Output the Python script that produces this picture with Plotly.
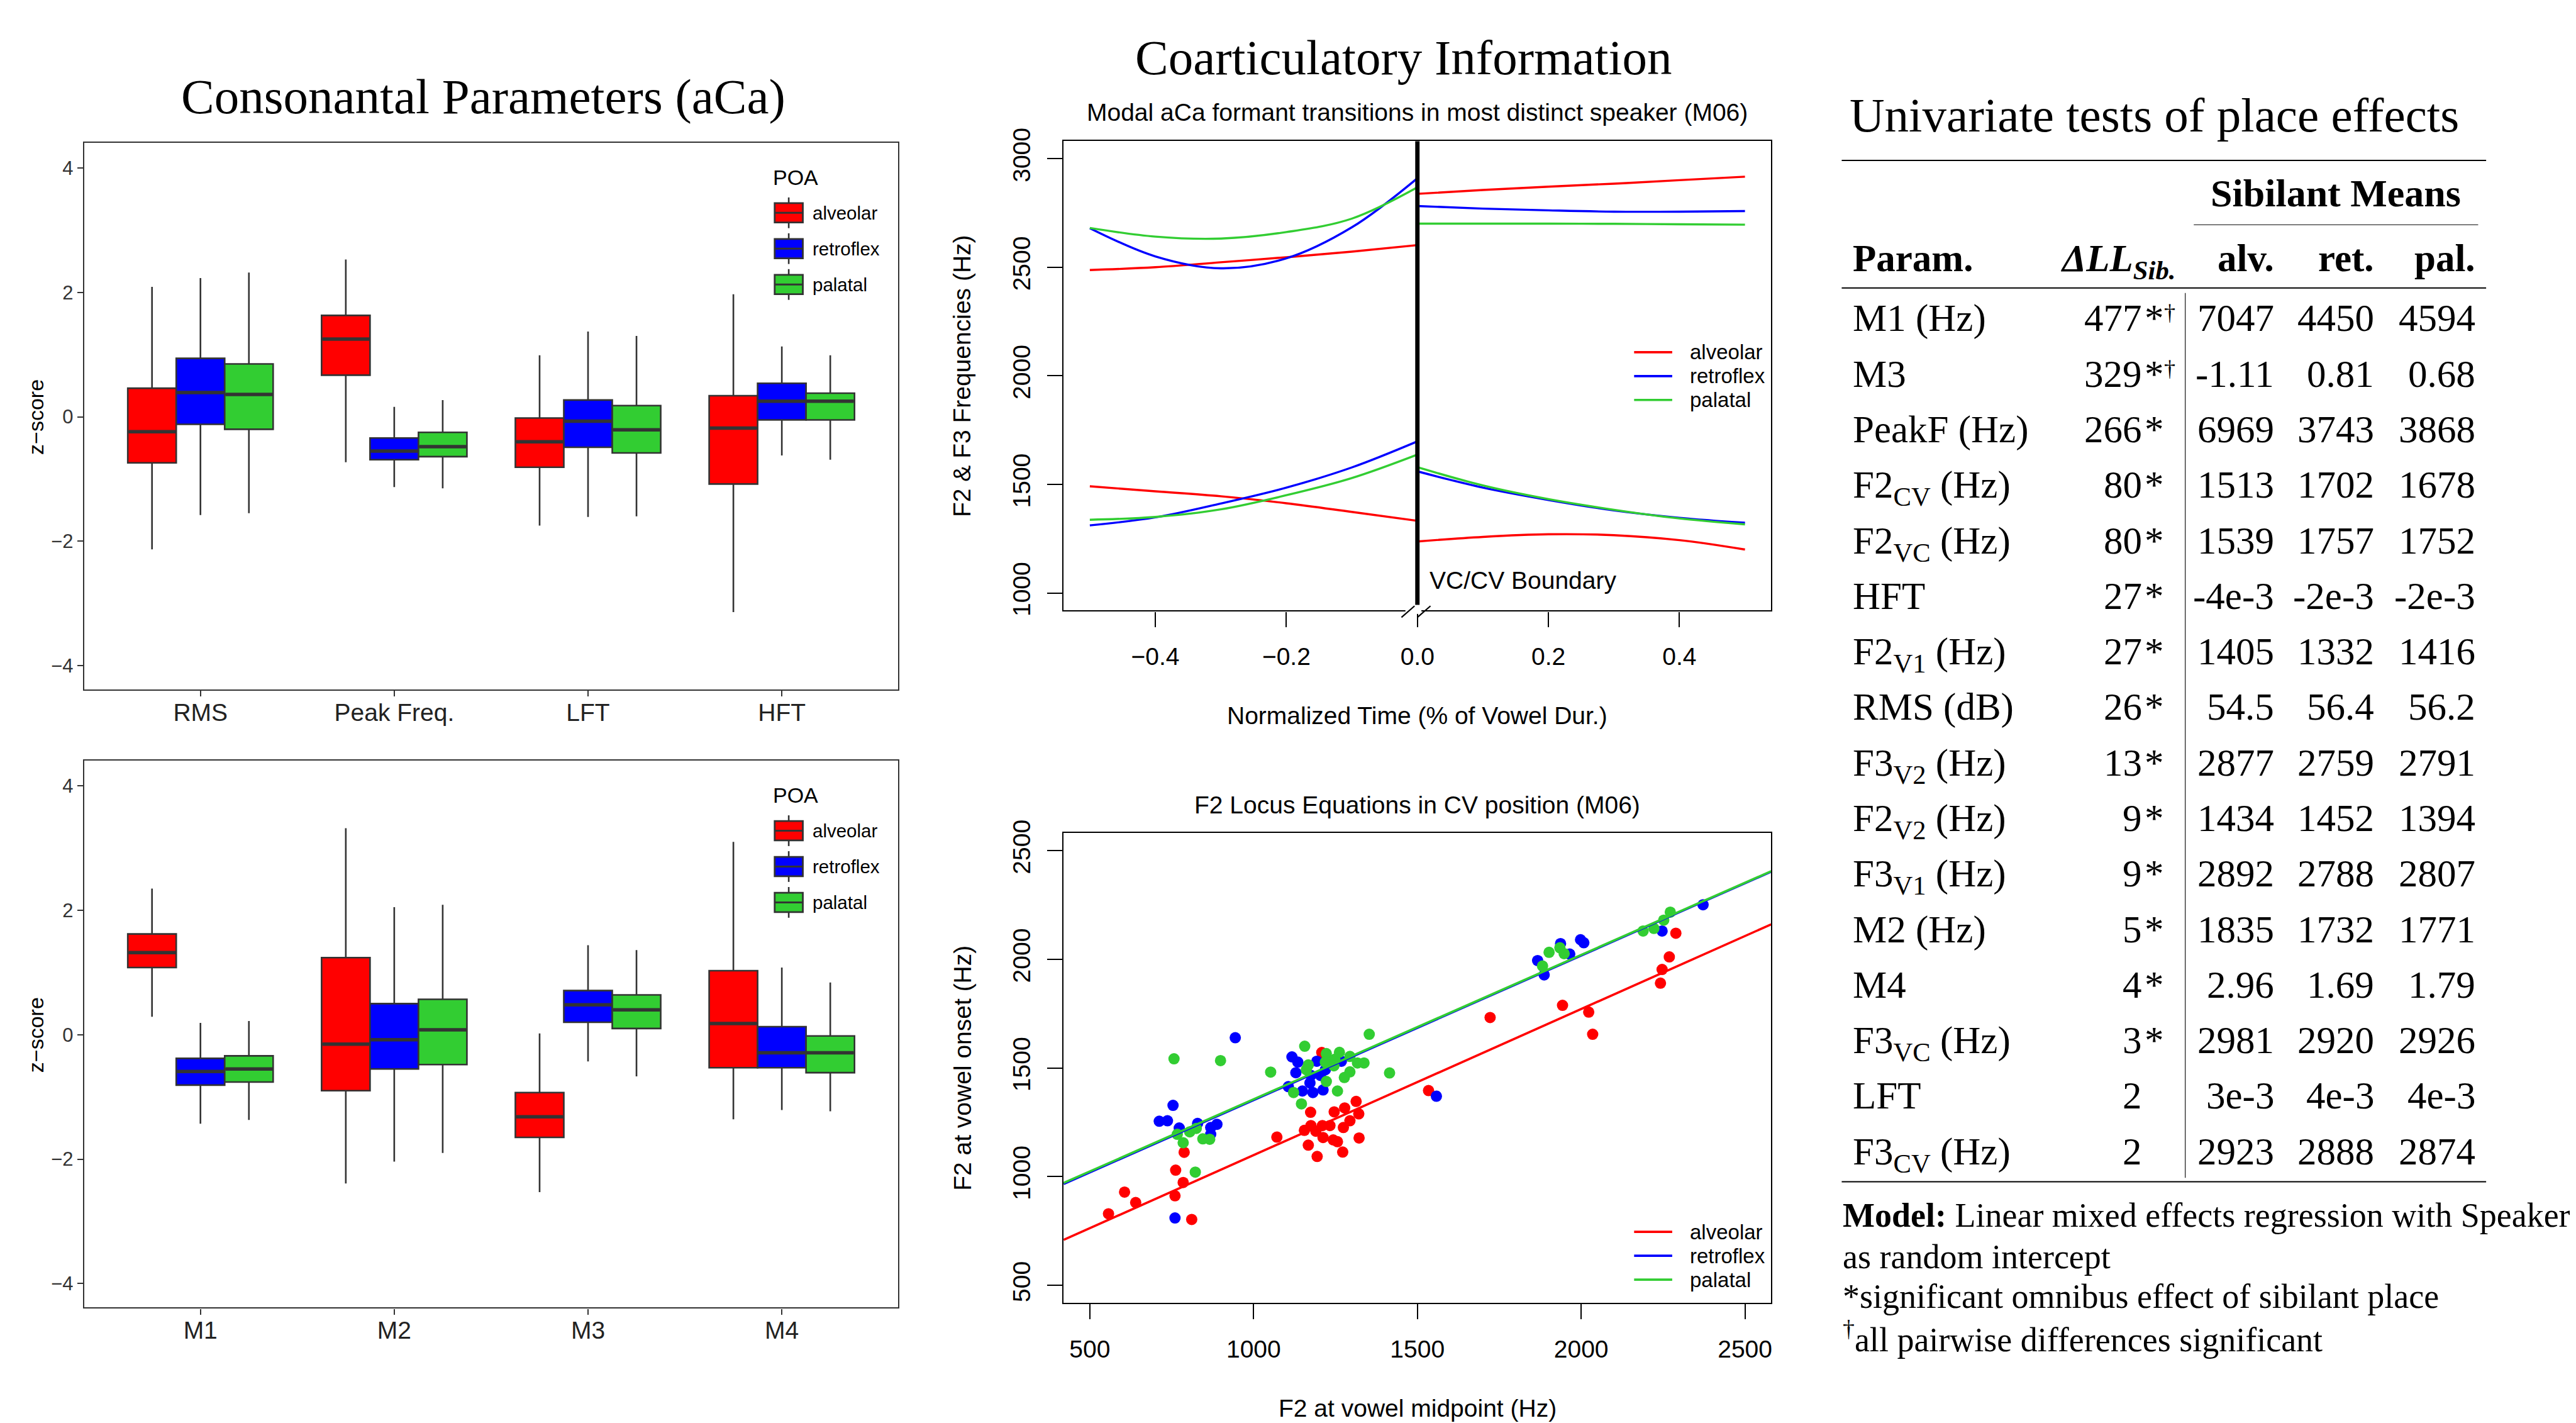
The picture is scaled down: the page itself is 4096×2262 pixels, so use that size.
import plotly.graph_objects as go

# ---------------- reference geometry helpers ----------------
RW, RH = 4529, 2501          # reference canvas (all positions below are in reference px)
OUT_W, OUT_H = 4096, 2262
PAGE_PAD = 8                 # default body margin of the html page
def X(v): return v / RW - PAGE_PAD / OUT_W
def Y(v): return 1 - v / RH + PAGE_PAD / OUT_H

SANS = "Liberation Sans, Arial, Helvetica, sans-serif"
SERIF = "Liberation Serif, Times New Roman, serif"

place_names = ["alveolar", "retroflex", "palatal"]
place_colors = ["#FF0000", "#0000FF", "#32CD32"]

# ---------------- box plot data (z-scores) ----------------
top_params = ["RMS", "Peak Freq.", "LFT", "HFT"]
bot_params = ["M1", "M2", "M3", "M4"]

top_alv_lo = [-2.13, -0.73, -1.75, -3.14]
top_alv_q1 = [-0.74, 0.67, -0.81, -1.08]
top_alv_med = [-0.24, 1.25, -0.40, -0.18]
top_alv_q3 = [0.46, 1.63, -0.02, 0.34]
top_alv_hi = [2.09, 2.53, 0.99, 1.97]

top_ret_lo = [-1.58, -1.13, -1.61, -0.62]
top_ret_q1 = [-0.12, -0.69, -0.49, -0.05]
top_ret_med = [0.39, -0.55, -0.07, 0.25]
top_ret_q3 = [0.94, -0.34, 0.27, 0.54]
top_ret_hi = [2.23, 0.16, 1.37, 1.13]

top_pal_lo = [-1.55, -1.15, -1.60, -0.69]
top_pal_q1 = [-0.20, -0.64, -0.58, -0.05]
top_pal_med = [0.36, -0.48, -0.21, 0.25]
top_pal_q3 = [0.85, -0.25, 0.18, 0.38]
top_pal_hi = [2.32, 0.27, 1.30, 0.99]

bot_alv_lo = [0.29, -2.39, -2.53, -1.36]
bot_alv_q1 = [1.08, -0.90, -1.65, -0.53]
bot_alv_med = [1.32, -0.15, -1.32, 0.18]
bot_alv_q3 = [1.62, 1.24, -0.93, 1.03]
bot_alv_hi = [2.35, 3.32, 0.02, 3.10]

bot_ret_lo = [-1.43, -2.04, -0.43, -1.21]
bot_ret_q1 = [-0.81, -0.55, 0.20, -0.53]
bot_ret_med = [-0.59, -0.08, 0.48, -0.29]
bot_ret_q3 = [-0.38, 0.50, 0.71, 0.13]
bot_ret_hi = [0.19, 2.05, 1.44, 1.08]

bot_pal_lo = [-1.37, -1.90, -0.67, -1.23]
bot_pal_q1 = [-0.76, -0.48, 0.10, -0.61]
bot_pal_med = [-0.55, 0.08, 0.40, -0.29]
bot_pal_q3 = [-0.34, 0.57, 0.64, -0.02]
bot_pal_hi = [0.22, 2.09, 1.36, 0.84]

# ---------------- formant transitions (Hz) ----------------
t_vc = [-0.5, -0.4, -0.3, -0.2, -0.1, 0.0]
t_cv = [0.0, 0.1, 0.2, 0.3, 0.4, 0.5]
f3_vc_alv = [2487, 2500, 2523, 2546, 2572, 2602]
f3_vc_ret = [2680, 2550, 2495, 2541, 2684, 2910]
f3_vc_pal = [2681, 2641, 2632, 2662, 2724, 2868]
f2_vc_alv = [1491, 1468, 1445, 1413, 1373, 1332]
f2_vc_ret = [1311, 1348, 1412, 1485, 1578, 1698]
f2_vc_pal = [1337, 1350, 1385, 1450, 1529, 1637]
f3_cv_alv = [2838, 2856, 2871, 2885, 2901, 2917]
f3_cv_ret = [2782, 2770, 2762, 2756, 2756, 2759]
f3_cv_pal = [2701, 2701, 2701, 2700, 2698, 2696]
f2_cv_alv = [1237, 1258, 1270, 1266, 1243, 1200]
f2_cv_ret = [1560, 1485, 1428, 1380, 1346, 1323]
f2_cv_pal = [1579, 1495, 1432, 1383, 1343, 1316]
boundary_low = 945

# ---------------- locus equation scatter (Hz) ----------------
alv_mid = [557, 606, 640, 760, 762, 785, 788, 811, 1071, 1208, 1174, 1246, 1278, 1313, 1321,
           1294, 1274, 1233, 1210, 1175, 1155, 1190, 1212, 1243, 1256, 1322, 1167, 1272, 1194,
           1534, 1722, 1943, 2023, 2035, 2242, 2247, 2269, 2289]
alv_on = [829, 929, 881, 912, 1030, 973, 1112, 803, 1182, 1571, 1296, 1298, 1316, 1346, 1289,
          1257, 1226, 1235, 1235, 1235, 1213, 1209, 1180, 1169, 1161, 1178, 1145, 1113, 1093,
          1396, 1732, 1788, 1757, 1655, 1890, 1953, 2011, 2120]
ret_mid = [944, 754, 712, 737, 773, 829, 888, 869, 869, 760, 1117, 1135, 1129, 1106, 1149, 1172,
           1181, 1212, 1193, 1204, 1219, 1268, 1175, 1558, 1867, 1887, 1937, 1965, 1998, 2008,
           2247, 2372]
ret_on = [1639, 1328, 1255, 1257, 1224, 1245, 1241, 1226, 1195, 810, 1551, 1527, 1478, 1414, 1394,
          1431, 1387, 1399, 1531, 1466, 1492, 1531, 1466, 1370, 1994, 1928, 2072, 2024, 2090, 2076,
          2130, 2251]
pal_mid = [757, 899, 767, 785, 805, 825, 845, 866, 822, 1052, 1156, 1353, 1415, 1167, 1161, 1222,
           1219, 1248, 1262, 1245, 1294, 1317, 1337, 1294, 1277, 1222, 1256, 1122, 1146, 1882, 1902,
           1935, 1948, 2189, 2222, 2252, 2272]
pal_on = [1542, 1534, 1195, 1156, 1206, 1222, 1174, 1172, 1021, 1481, 1600, 1655, 1477, 1514, 1492,
          1566, 1527, 1540, 1572, 1510, 1553, 1523, 1523, 1482, 1456, 1438, 1394, 1387, 1335, 1969,
          2032, 2053, 2026, 2130, 2142, 2180, 2217]
locus_intercept = [427, 687, 692]
locus_slope = [0.672, 0.665, 0.664]

# ---------------- table ----------------
tbl_param = ["M1 (Hz)", "M3", "PeakF (Hz)", "F2<sub>CV</sub> (Hz)", "F2<sub>VC</sub> (Hz)", "HFT",
             "F2<sub>V1</sub> (Hz)", "RMS (dB)", "F3<sub>V2</sub> (Hz)", "F2<sub>V2</sub> (Hz)",
             "F3<sub>V1</sub> (Hz)", "M2 (Hz)", "M4", "F3<sub>VC</sub> (Hz)", "LFT", "F3<sub>CV</sub> (Hz)"]
tbl_dll = ["477", "329", "266", "80", "80", "27", "27", "26", "13", "9", "9", "5", "4", "3", "2", "2"]
tbl_star = ["*", "*", "*", "*", "*", "*", "*", "*", "*", "*", "*", "*", "*", "*", "", ""]
tbl_dagger = ["†", "†", "", "", "", "", "", "", "", "", "", "", "", "", "", ""]
tbl_alv = ["7047", "-1.11", "6969", "1513", "1539", "-4e-3", "1405", "54.5", "2877", "1434", "2892",
           "1835", "2.96", "2981", "3e-3", "2923"]
tbl_ret = ["4450", "0.81", "3743", "1702", "1757", "-2e-3", "1332", "56.4", "2759", "1452", "2788",
           "1732", "1.69", "2920", "4e-3", "2888"]
tbl_pal = ["4594", "0.68", "3868", "1678", "1752", "-2e-3", "1416", "56.2", "2791", "1394", "2807",
           "1771", "1.79", "2926", "4e-3", "2874"]

# =====================================================================
fig = go.Figure()
annotations, shapes = [], []

def txt(s, x, y, size, family=SANS, xa="center", ya="middle", color="black", angle=0):
    annotations.append(dict(text=s, x=X(x), y=Y(y), xref="paper", yref="paper",
                            xanchor=xa, yanchor=ya, showarrow=False, textangle=angle,
                            font=dict(size=size, family=family, color=color)))

def seg(x0, y0, x1, y1, width, color="black"):
    shapes.append(dict(type="line", xref="paper", yref="paper", x0=X(x0), y0=Y(y0),
                       x1=X(x1), y1=Y(y1), line=dict(color=color, width=width)))

# ---------------- box plots ----------------
GREY = "#333333"
BW = 0.25
offsets = [-0.25, 0.0, 0.25]
panels = [
    ("x", "y", top_params, [(top_alv_lo, top_alv_q1, top_alv_med, top_alv_q3, top_alv_hi),
                            (top_ret_lo, top_ret_q1, top_ret_med, top_ret_q3, top_ret_hi),
                            (top_pal_lo, top_pal_q1, top_pal_med, top_pal_q3, top_pal_hi)]),
    ("x2", "y2", bot_params, [(bot_alv_lo, bot_alv_q1, bot_alv_med, bot_alv_q3, bot_alv_hi),
                              (bot_ret_lo, bot_ret_q1, bot_ret_med, bot_ret_q3, bot_ret_hi),
                              (bot_pal_lo, bot_pal_q1, bot_pal_med, bot_pal_q3, bot_pal_hi)]),
]
for xa, ya, params, stats in panels:
    for k in range(3):
        lo, q1, med, q3, hi = stats[k]
        xs = [i + 1 + offsets[k] for i in range(len(params))]
        fig.add_trace(go.Box(x=xs, q1=q1, median=med, q3=q3, lowerfence=lo, upperfence=hi,
                             width=BW, fillcolor=place_colors[k], line=dict(color=GREY, width=2.6),
                             whiskerwidth=0, boxpoints=False, name=place_names[k],
                             showlegend=False, xaxis=xa, yaxis=ya))
        mx, my = [], []
        for xc, m in zip(xs, med):
            mx += [xc - BW / 2 + 0.004, xc + BW / 2 - 0.004, None]
            my += [m, m, None]
        fig.add_trace(go.Scatter(x=mx, y=my, mode="lines", line=dict(color=GREY, width=5.5),
                                 showlegend=False, hoverinfo="skip", xaxis=xa, yaxis=ya))

# manual ggplot-style legends
for top in (251, 1337):
    txt("POA", 1357, top + 61, 34, xa="left")
    for k in range(3):
        c = top + 123 + 63 * k
        shapes.append(dict(type="line", xref="paper", yref="paper", x0=X(1386.7), x1=X(1386.7),
                           y0=Y(c - 27), y1=Y(c + 27), line=dict(color=GREY, width=2.6)))
        shapes.append(dict(type="rect", xref="paper", yref="paper", x0=X(1362), x1=X(1411.5),
                           y0=Y(c + 17), y1=Y(c - 17), fillcolor=place_colors[k],
                           line=dict(color=GREY, width=2.8)))
        seg(1362, c, 1411.5, c, 3, GREY)
        txt(place_names[k], 1426.5, c, 29.5, xa="left")

txt("z−score", 63, 733, 34, angle=-90)
txt("z−score", 63, 1819, 34, angle=-90)
txt("Consonantal Parameters (aCa)", 850, 170, 79, family=SERIF)

# ---------------- formant transitions ----------------
vc = [(f3_vc_alv, f2_vc_alv), (f3_vc_ret, f2_vc_ret), (f3_vc_pal, f2_vc_pal)]
cv = [(f3_cv_alv, f2_cv_alv), (f3_cv_ret, f2_cv_ret), (f3_cv_pal, f2_cv_pal)]
for k in range(3):
    for ser_t, ser in ((t_vc, vc[k][0]), (t_vc, vc[k][1]), (t_cv, cv[k][0]), (t_cv, cv[k][1])):
        fig.add_trace(go.Scatter(x=ser_t, y=ser, mode="lines", name=place_names[k],
                                 line=dict(color=place_colors[k], width=3.4, shape="spline"),
                                 showlegend=False, xaxis="x3", yaxis="y3"))
# VC/CV boundary
shapes.append(dict(type="line", xref="x3", yref="y3", x0=0, x1=0, y0=boundary_low, y1=3081,
                   line=dict(color="black", width=6.9)))
# axis break on the bottom frame
shapes.append(dict(type="rect", xref="paper", yref="paper", x0=X(2471), x1=X(2499),
                   y0=Y(1079), y1=Y(1068), fillcolor="white", line=dict(width=0)))
seg(2464, 1085, 2487, 1065, 2.2)
seg(2492, 1085, 2515, 1065, 2.2)
txt("VC/CV Boundary", 2511, 1020, 39, xa="left")
for k in range(3):
    yy = 619 + 42 * k
    seg(2873, yy, 2940, yy, 3.6, place_colors[k])
    txt(place_names[k], 2969, yy, 33, xa="left")
txt("Coarticulatory Information", 2467, 101, 79, family=SERIF)
txt("Modal aCa formant transitions in most distinct speaker (M06)", 2492, 197, 39)
txt("F2 & F3 Frequencies (Hz)", 1692, 661, 39, angle=-90)
txt("Normalized Time (% of Vowel Dur.)", 2492, 1258, 39)

# ---------------- locus equations ----------------
sc = [(alv_mid, alv_on), (ret_mid, ret_on), (pal_mid, pal_on)]
for k in range(3):
    fig.add_trace(go.Scatter(x=sc[k][0], y=sc[k][1], mode="markers", name=place_names[k],
                             marker=dict(color=place_colors[k], size=18, line=dict(width=0)),
                             showlegend=False, xaxis="x4", yaxis="y4"))
X4_RANGE = [420, 2580]
for k in range(3):
    fig.add_trace(go.Scatter(x=X4_RANGE,
                             y=[locus_intercept[k] + locus_slope[k] * v for v in X4_RANGE],
                             mode="lines", line=dict(color=place_colors[k], width=3.6),
                             name=place_names[k], showlegend=False, xaxis="x4", yaxis="y4"))
for k in range(3):
    yy = 2165 + 42 * k
    seg(2873, yy, 2940, yy, 3.6, place_colors[k])
    txt(place_names[k], 2969, yy, 33, xa="left")
txt("F2 Locus Equations in CV position (M06)", 2492, 1415, 39)
txt("F2 at vowel onset (Hz)", 1692, 1877, 39, angle=-90)
txt("F2 at vowel midpoint (Hz)", 2492, 2475, 39)

# ---------------- table ----------------
TS = 61
txt("Univariate tests of place effects", 3788, 202, 77, family=SERIF)
seg(3238, 282, 4371, 282, 2.0)
txt("<b>Sibilant Means</b>", 4107, 339, 62, family=SERIF)
seg(3857, 395, 4357, 395, 1.2)
top_off = 0.56 * TS / 0.904 + 2
hy = 454 - top_off
txt("<b>Param.</b>", 3255, hy, TS, family=SERIF, xa="left", ya="top")
txt("<b><i>ΔLL<sub>Sib.</sub></i></b>", 3827, hy, TS, family=SERIF, xa="right", ya="top")
txt("<b>alv.</b>", 4001, hy, TS, family=SERIF, xa="right", ya="top")
txt("<b>ret.</b>", 4176, hy, TS, family=SERIF, xa="right", ya="top")
txt("<b>pal.</b>", 4354, hy, TS, family=SERIF, xa="right", ya="top")
seg(3238, 506, 4371, 506, 2.0)
seg(3842, 515, 3842, 2070, 1.4, GREY)
for i in range(len(tbl_param)):
    cy = 560 + 97.6 * i
    ty = cy - top_off
    txt(tbl_param[i], 3255, ty, TS, family=SERIF, xa="left", ya="top")
    txt(tbl_dll[i], 3768, ty, TS, family=SERIF, xa="right", ya="top")
    if tbl_star[i]:
        txt(tbl_star[i], 3768, ty, TS, family=SERIF, xa="left", ya="top")
    if tbl_dagger[i]:
        txt(tbl_dagger[i], 3803, cy - 10, 36, family=SERIF, xa="left")
    txt(tbl_alv[i], 4001, ty, TS, family=SERIF, xa="right", ya="top")
    txt(tbl_ret[i], 4176, ty, TS, family=SERIF, xa="right", ya="top")
    txt(tbl_pal[i], 4354, ty, TS, family=SERIF, xa="right", ya="top")
seg(3238, 2077, 4371, 2077, 2.0)
FS = 54
fb = 0.547 * FS / 0.904 + 2
txt("<b>Model:</b> Linear mixed effects regression with Speaker", 3238, 2137 + fb, FS,
    family=SERIF, xa="left", ya="bottom")
txt("as random intercept", 3238, 2210 + fb, FS, family=SERIF, xa="left", ya="bottom")
txt("*significant omnibus effect of sibilant place", 3238, 2279 + fb, FS, family=SERIF,
    xa="left", ya="bottom")
txt("<sup>†</sup>all pairwise differences significant", 3238, 2356 + fb, FS, family=SERIF,
    xa="left", ya="bottom")

# ---------------- axes ----------------
box_ax = dict(showline=True, mirror=True, linecolor=GREY, linewidth=2.4, ticks="outside",
              ticklen=9, tickwidth=2.4, tickcolor=GREY, showgrid=False, zeroline=False,
              automargin=False)
r_ax = dict(showline=True, mirror=True, linecolor="black", linewidth=2.2, ticks="outside",
            ticklen=24, tickwidth=2.2, tickcolor="black", showgrid=False, zeroline=False,
            tickfont=dict(size=39, color="black", family=SANS), automargin=False)

layout_axes = dict(
    xaxis=dict(box_ax, domain=[X(148), X(1579)], anchor="y", range=[0.4, 4.6],
               tickvals=[1, 2, 3, 4], ticktext=top_params, ticklabelstandoff=-8,
               tickfont=dict(size=39, color="#222222", family=SANS)),
    yaxis=dict(box_ax, domain=[Y(1212), Y(251)], anchor="x", range=[-4.385, 4.405],
               tickvals=[-4, -2, 0, 2, 4], tickfont=dict(size=31, color="#333333", family=SANS)),
    xaxis2=dict(box_ax, domain=[X(148), X(1579)], anchor="y2", range=[0.4, 4.6],
                tickvals=[1, 2, 3, 4], ticktext=bot_params, ticklabelstandoff=-8,
                tickfont=dict(size=39, color="#222222", family=SANS)),
    yaxis2=dict(box_ax, domain=[Y(2298), Y(1337)], anchor="x2", range=[-4.385, 4.405],
                tickvals=[-4, -2, 0, 2, 4], tickfont=dict(size=31, color="#333333", family=SANS)),
    xaxis3=dict(r_ax, domain=[X(1870), X(3114)], anchor="y3", range=[-0.54, 0.54],
                tickvals=[-0.4, -0.2, 0.0, 0.2, 0.4], ticklabelstandoff=14,
                ticktext=["−0.4", "−0.2", "0.0", "0.2", "0.4"]),
    yaxis3=dict(r_ax, domain=[Y(1073), Y(248)], anchor="x3", range=[919, 3081],
                tickvals=[1000, 1500, 2000, 2500, 3000], tickangle=-90, ticklabelstandoff=12),
    xaxis4=dict(r_ax, domain=[X(1870), X(3114)], anchor="y4", range=X4_RANGE,
                tickvals=[500, 1000, 1500, 2000, 2500], ticklabelstandoff=14),
    yaxis4=dict(r_ax, domain=[Y(2290), Y(1464)], anchor="x4", range=[419, 2581],
                tickvals=[500, 1000, 1500, 2000, 2500], tickangle=-90, ticklabelstandoff=12),
)

fig.update_layout(width=OUT_W, height=OUT_H, margin=dict(l=0, r=0, t=0, b=0, autoexpand=False),
                  paper_bgcolor="white", plot_bgcolor="white", showlegend=False,
                  boxmode="overlay", font=dict(family=SANS, color="black"),
                  annotations=annotations, shapes=shapes, **layout_axes)

fig.write_html("out.html", config={"displayModeBar": False})
